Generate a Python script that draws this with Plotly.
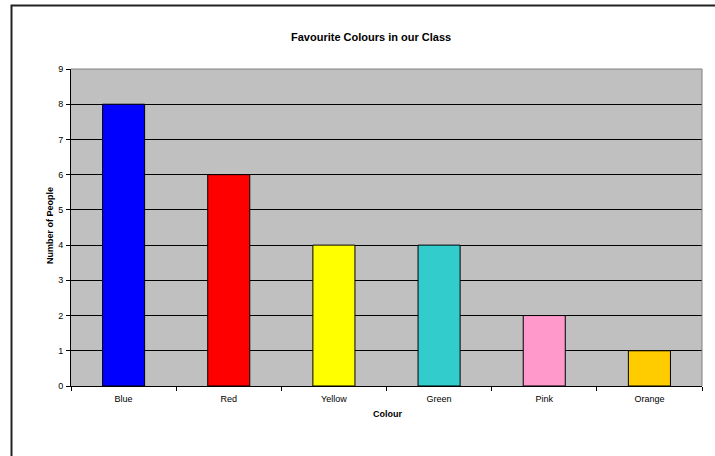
import plotly.graph_objects as go

colours = ["Blue", "Red", "Yellow", "Green", "Pink", "Orange"]
people = [8, 6, 4, 4, 2, 1]
bar_colours = ["#0000FF", "#FF0000", "#FFFF00", "#33CCCC", "#FF99CC", "#FFCC00"]
y_ticks = list(range(0, 10))

W, H = 715, 456
L, R, T, B = 71, 702, 69, 386

def px(x):
    return (x - L) / (R - L)

def py(y):
    return (B - y) / (B - T)

fig = go.Figure(go.Bar(
    x=colours, y=people,
    marker=dict(color=bar_colours, line=dict(color="black", width=1)),
    width=0.4,
))

font = "Arial, Liberation Sans, sans-serif"
fig.update_layout(
    width=W, height=H,
    margin=dict(l=L, r=W - R, t=T, b=H - B),
    paper_bgcolor="white",
    plot_bgcolor="#C0C0C0",
    showlegend=False,
    font=dict(family=font, size=9, color="black"),
    bargap=0.6,
)
fig.update_xaxes(
    showline=True, linecolor="black", linewidth=1,
    ticks="outside", tickson="boundaries", ticklen=4, tickcolor="black",
    showgrid=False, tickfont=dict(size=9), ticklabelstandoff=4,
)
fig.update_yaxes(
    range=[0, 9], tickvals=y_ticks, showline=True, linecolor="black", linewidth=1,
    ticks="outside", ticklen=4, tickcolor="black",
    showgrid=True, gridcolor="black", gridwidth=1, zeroline=False,
    tickfont=dict(size=9), ticklabelstandoff=1,
)

# Titles as annotations for exact placement
fig.add_annotation(text="<b>Favourite Colours in our Class</b>", xref="paper", yref="paper",
                   x=px(371), y=py(37), showarrow=False, font=dict(size=11),
                   xanchor="center", yanchor="middle")
fig.add_annotation(text="<b>Colour</b>", xref="paper", yref="paper",
                   x=px(387), y=py(414), showarrow=False, font=dict(size=9),
                   xanchor="center", yanchor="middle")
fig.add_annotation(text="<b>Number of People</b>", xref="paper", yref="paper",
                   x=px(50), y=py(226), showarrow=False, font=dict(size=9),
                   textangle=-90, xanchor="center", yanchor="middle")

# Plot area border (top and right) in grey
fig.add_shape(type="line", xref="paper", yref="paper", x0=0, x1=1, y0=1, y1=1,
              line=dict(color="#808080", width=1), layer="above")
fig.add_shape(type="line", xref="paper", yref="paper", x0=1, x1=1, y0=0, y1=1,
              line=dict(color="#808080", width=1), layer="above")

# Outer chart frame (extends beyond the visible window on right and bottom)
fig.add_shape(type="rect", xref="paper", yref="paper",
              x0=px(11.5), x1=px(731), y0=py(470), y1=py(5.5),
              line=dict(color="#222222", width=2), fillcolor="rgba(0,0,0,0)", layer="above")

fig.write_html("out.html")
